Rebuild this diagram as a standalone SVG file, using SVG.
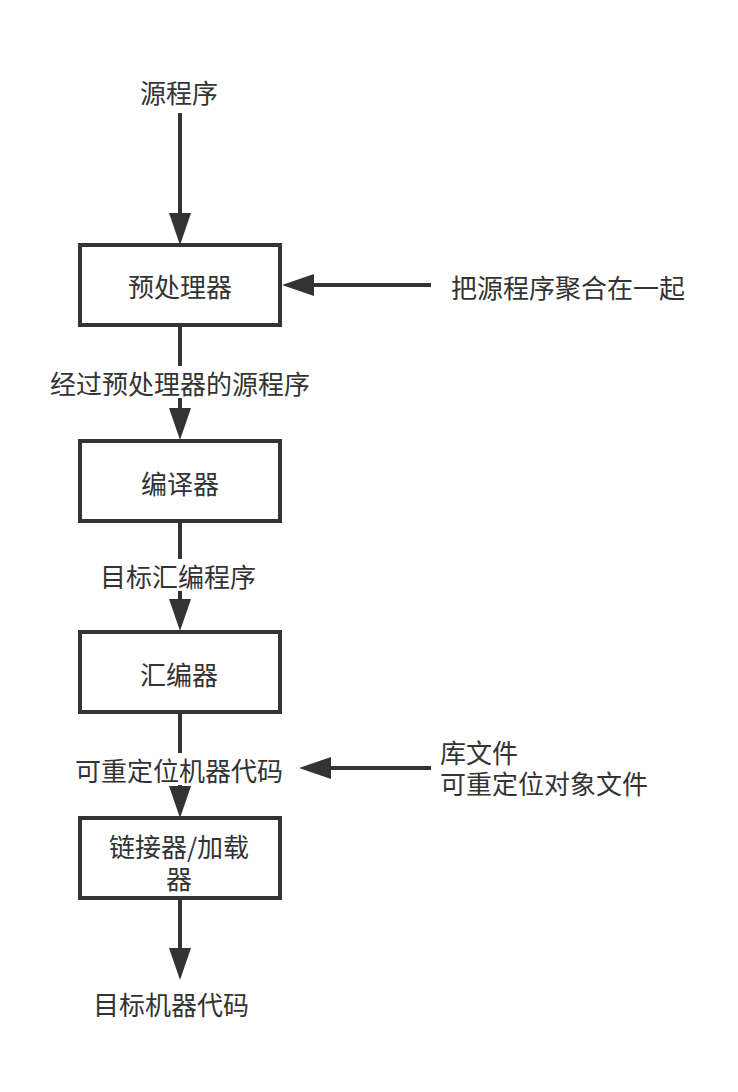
<svg xmlns="http://www.w3.org/2000/svg" width="738" height="1092" viewBox="0 0 738 1092">
<style>
.box{fill:#fff;stroke:#333;stroke-width:4}
.ln{fill:none;stroke:#333;stroke-width:4;marker-end:url(#ah)}
.t{font-family:"Noto Sans CJK SC","Noto Sans",sans-serif;font-size:26px;fill:#333;dominant-baseline:central}
.c{text-anchor:middle}
.bg{fill:#fff}
</style>
<defs>
<marker id="ah" markerUnits="userSpaceOnUse" markerWidth="32" markerHeight="22" refX="22" refY="11" orient="auto">
<path d="M0,0 L32,11 L0,22 z" fill="#333"/>
</marker>
</defs>
<rect width="738" height="1092" fill="#fff"/>
<g id="connectors">
<line class="ln" x1="180" y1="113" x2="180" y2="235"/>
<line class="ln" x1="431" y1="285" x2="292" y2="285"/>
<line class="ln" x1="180" y1="325" x2="180" y2="430"/>
<line class="ln" x1="180" y1="521" x2="180" y2="621"/>
<line class="ln" x1="180" y1="712" x2="180" y2="808"/>
<line class="ln" x1="431" y1="768" x2="309" y2="768"/>
<line class="ln" x1="180" y1="898" x2="180" y2="970"/>
</g>
<g id="src"><text class="t c" x="179" y="91">源程序</text></g>
<g id="pre"><rect class="box" x="80" y="245" width="200" height="80"/><text class="t c" x="180" y="285">预处理器</text></g>
<g id="agg"><text class="t" x="451" y="286">把源程序聚合在一起</text></g>
<g id="lbl1"><rect class="bg" x="48" y="366" width="264" height="32"/><text class="t c" x="180" y="382">经过预处理器的源程序</text></g>
<g id="comp"><rect class="box" x="80" y="441" width="200" height="80"/><text class="t c" x="180" y="482">编译器</text></g>
<g id="lbl2"><rect class="bg" x="100" y="559" width="158" height="32"/><text class="t c" x="178" y="575">目标汇编程序</text></g>
<g id="asm"><rect class="box" x="80" y="632" width="200" height="80"/><text class="t c" x="179" y="673">汇编器</text></g>
<g id="lbl3"><rect class="bg" x="72" y="753" width="214" height="32"/><text class="t c" x="179" y="769">可重定位机器代码</text></g>
<g id="lib"><text class="t" x="440" y="751">库文件</text><text class="t" x="440" y="782">可重定位对象文件</text></g>
<g id="link"><rect class="box" x="80" y="818" width="200" height="80"/><text class="t c" x="179" y="845">链接器/加载</text><text class="t c" x="179" y="877">器</text></g>
<g id="out"><text class="t c" x="171" y="1003">目标机器代码</text></g>
</svg>
